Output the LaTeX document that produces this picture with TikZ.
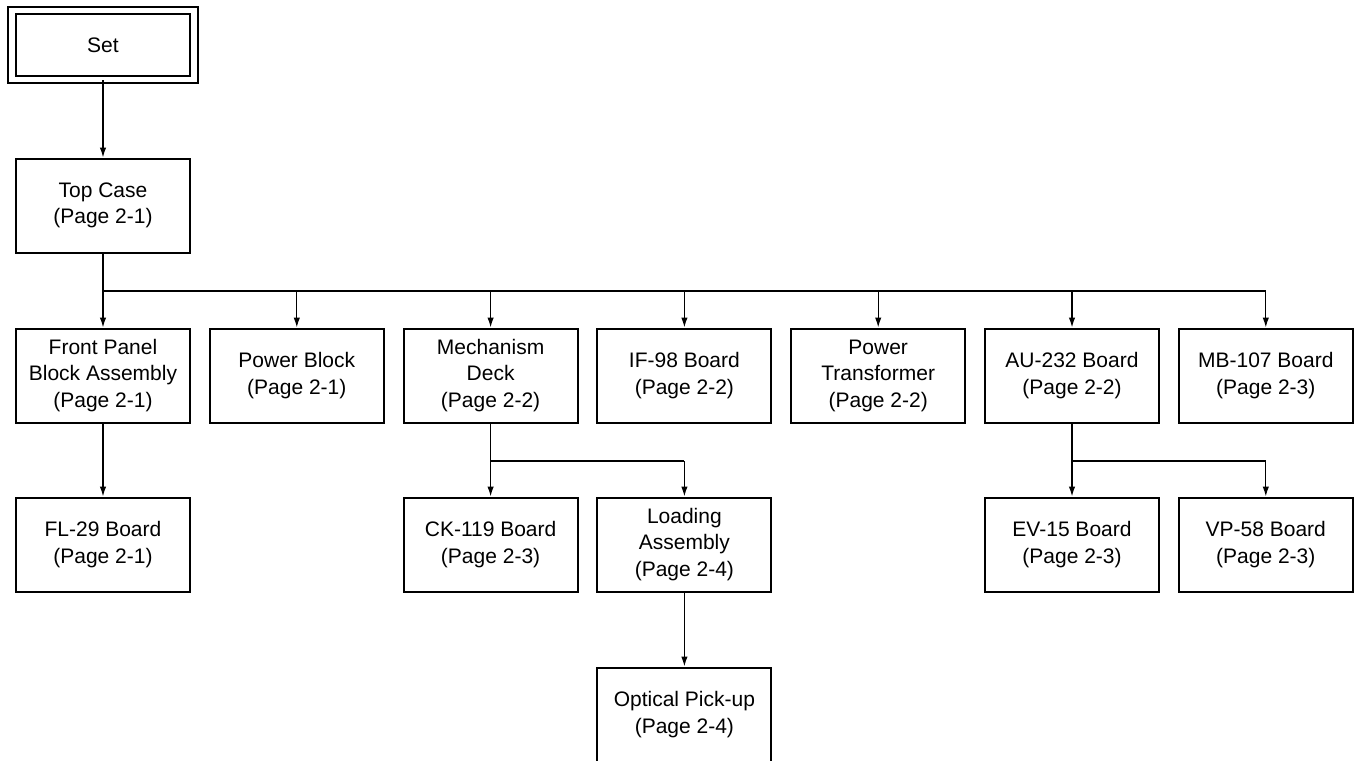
\documentclass[tikz,border=0pt]{standalone}
\usepackage{fontspec}
\setmainfont{Liberation Sans}
\usetikzlibrary{arrows.meta}
\begin{document}
\begin{tikzpicture}[x=1pt,y=-1pt,
  box/.style={draw,line width=2pt,minimum width=174pt,minimum height=94pt,align=center,inner sep=0pt,
    font=\fontsize{21}{26.5}\selectfont},
  conn/.style={line width=1.3pt},
  arr/.style={conn,-{Latex[length=10pt,width=6.5pt]}},
]
\useasboundingbox (0,0) rectangle (1359,760);
\def\cA{103}\def\cB{296.8}\def\cC{490.6}\def\cD{684.4}\def\cE{878.2}\def\cF{1072}\def\cG{1265.8}
% Set
\node[draw,double,line width=1.8pt,double distance=5.5pt,minimum width=182pt,minimum height=68.5pt,inner sep=0pt,
  font=\fontsize{21}{26.5}\selectfont] (set) at (103,45) {Set};
\node[box] (top) at (\cA,205.5) {Top Case\\(Page 2-1)};
% row 1
\node[box] (fp) at (\cA,375.5) {Front Panel\\Block Assembly\\(Page 2-1)};
\node[box] (pb) at (\cB,375.5) {Power Block\\(Page 2-1)};
\node[box] (md) at (\cC,375.5) {Mechanism\\Deck\\(Page 2-2)};
\node[box] (if) at (\cD,375.5) {IF-98 Board\\(Page 2-2)};
\node[box] (pt) at (\cE,375.5) {Power\\Transformer\\(Page 2-2)};
\node[box] (au) at (\cF,375.5) {AU-232 Board\\(Page 2-2)};
\node[box] (mb) at (\cG,375.5) {MB-107 Board\\(Page 2-3)};
% row 2
\node[box] (fl) at (\cA,544.5) {FL-29 Board\\(Page 2-1)};
\node[box] (ck) at (\cC,544.5) {CK-119 Board\\(Page 2-3)};
\node[box] (ld) at (\cD,544.5) {Loading\\Assembly\\(Page 2-4)};
\node[box] (ev) at (\cF,544.5) {EV-15 Board\\(Page 2-3)};
\node[box] (vp) at (\cG,544.5) {VP-58 Board\\(Page 2-3)};
% row 3
\node[box] (op) at (\cD,714.5) {Optical Pick-up\\(Page 2-4)};
% connectors
\coordinate (busL) at (\cA,291);
\coordinate (busR) at (\cG,291);
\coordinate (mdL) at (\cC,461);
\coordinate (mdR) at (\cD,461);
\coordinate (auL) at (\cF,461);
\coordinate (auR) at (\cG,461);
\draw[arr] (set.south) -- (top.north);
\draw[conn] (top.south) -- (busL) -- (busR);
\foreach \n in {fp,pb,md,if,pt,au,mb}{
  \draw[arr] (\n.north |- busL) -- (\n.north);
}
\draw[arr] (fp.south) -- (fl.north);
\draw[conn] (md.south) -- (mdL) -- (mdR);
\draw[arr] (mdL) -- (ck.north -| mdL);
\draw[arr] (mdR) -- (ld.north);
\draw[conn] (au.south) -- (auL) -- (auR);
\draw[arr] (auL) -- (ev.north -| auL);
\draw[arr] (auR) -- (vp.north);
\draw[arr] (ld.south) -- (op.north);
\end{tikzpicture}
\end{document}
